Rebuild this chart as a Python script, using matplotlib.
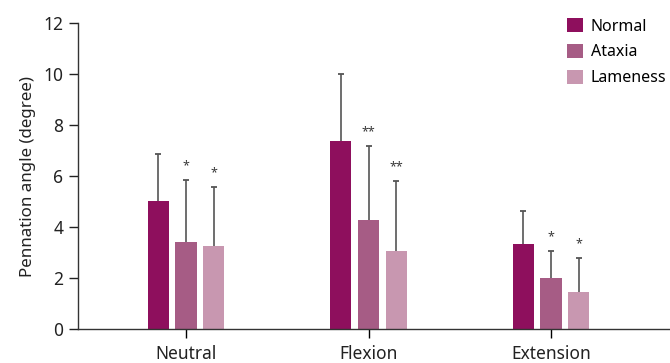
import numpy as np
import matplotlib.pyplot as plt

plt.rcParams['font.family'] = ['Noto Sans', 'DejaVu Sans']

positions = ['Neutral', 'Flexion', 'Extension']
groups = ['Normal', 'Ataxia', 'Lameness']
colors = ['#8e0f5d', '#a65c85', '#c897b0']

# mean and SD per group, one list per position order above
normal_mean = [5.02, 7.37, 3.33]
normal_sd = [1.84, 2.63, 1.30]
ataxia_mean = [3.41, 4.27, 2.00]
ataxia_sd = [2.43, 2.91, 1.06]
lameness_mean = [3.25, 3.06, 1.45]
lameness_sd = [2.32, 2.74, 1.33]

ataxia_sig = ['*', '**', '*']
lameness_sig = ['*', '**', '*']

means = [normal_mean, ataxia_mean, lameness_mean]
sds = [normal_sd, ataxia_sd, lameness_sd]
sigs = [None, ataxia_sig, lameness_sig]

fig = plt.figure(figsize=(6.7, 3.63), dpi=100)
ax = fig.add_axes([0.1164, 0.0937, 0.8836, 0.8429])

x = np.arange(len(positions))
width = 0.117
step = 0.152
for i, g in enumerate(groups):
    xs = x + (i - 1) * step
    ax.bar(xs, means[i], width, color=colors[i], label=g, zorder=2)
    tops = np.array(means[i]) + np.array(sds[i])
    # upper-only error bars with a cap at the top
    ax.vlines(xs, means[i], tops, color='#555555', linewidth=1.2, zorder=3)
    ax.plot(xs, tops, linestyle='none', marker='_', markersize=5,
            markeredgewidth=1.3, color='#555555', zorder=3)
    if sigs[i] is not None:
        for xi, t, s in zip(xs, tops, sigs[i]):
            ax.text(xi, t + 0.3, s, ha='center', va='bottom', fontsize=9,
                    fontweight='bold', color='#3a3a3a')

ax.set_xlim(-0.592, 2.652)
ax.set_ylim(0, 12)
ax.set_yticks(range(0, 13, 2))
ax.set_xticks(x)
ax.set_xticklabels(positions, fontsize=12.5, color='#222222')
ax.tick_params(axis='y', labelsize=12.5, colors='#222222', length=6.5,
               width=1, pad=4)
ax.tick_params(axis='x', length=6.5, width=1, pad=5)
ax.set_ylabel('Pennation angle (degree)', fontsize=12.2, color='#222222',
              labelpad=5)

for side in ['top', 'right']:
    ax.spines[side].set_visible(False)
for side in ['left', 'bottom']:
    ax.spines[side].set_color('#333333')
    ax.spines[side].set_linewidth(1)

fig.legend(loc='upper left', bbox_to_anchor=(567 / 670, 1 - 18 / 363),
           frameon=False, fontsize=11.5, handlelength=1.0, handleheight=1.0,
           handletextpad=0.5, labelspacing=0.58, borderaxespad=0, borderpad=0)

fig.savefig('out.png', dpi=100)
